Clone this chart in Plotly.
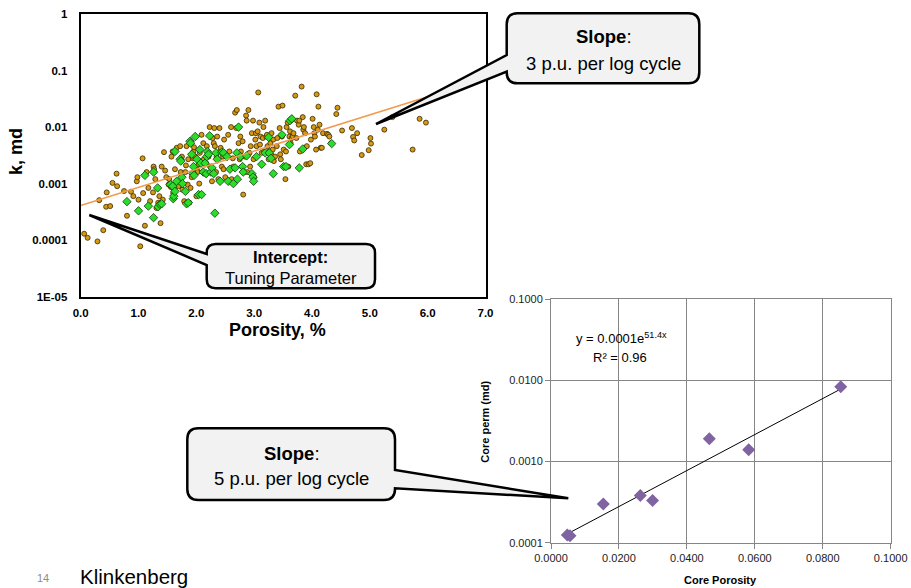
import plotly.graph_objects as go

W, H = 911, 588

# ---------------- Left chart data (porosity %, k md) ----------------
por_orange = [0.06, 0.12, 0.29, 0.32, 0.39, 0.45, 0.44, 0.51, 0.55, 0.62, 0.63, 0.75, 0.80, 0.87, 0.91, 0.97,
              0.98, 1.00, 1.03, 1.07, 1.08, 1.11, 1.14, 1.17, 1.20, 1.25, 1.26, 1.27, 1.29, 1.31, 1.34, 1.36,
              1.38, 1.40, 1.42, 1.44, 1.46, 1.48, 1.52, 1.53, 1.56, 1.57, 1.59, 1.60, 1.61, 1.63, 1.66, 1.69,
              1.72, 1.73, 1.75, 1.76, 1.79, 1.81, 1.82, 1.83, 1.85, 1.86, 1.88, 1.90, 1.92, 1.94, 1.95, 1.96,
              1.98, 2.00, 2.01, 2.02, 2.04, 2.05, 2.06, 2.09, 2.11, 2.12, 2.13, 2.15, 2.17, 2.18, 2.19, 2.21,
              2.23, 2.24, 2.25, 2.27, 2.28, 2.30, 2.31, 2.32, 2.34, 2.35, 2.36, 2.38, 2.40, 2.41, 2.42, 2.44,
              2.46, 2.47, 2.48, 2.50, 2.53, 2.55, 2.57, 2.60, 2.61, 2.63, 2.64, 2.67, 2.69, 2.70, 2.71, 2.73,
              2.75, 2.76, 2.77, 2.79, 2.80, 2.81, 2.83, 2.84, 2.86, 2.87, 2.88, 2.90, 2.92, 2.93, 2.94, 2.96,
              2.98, 2.99, 3.00, 3.02, 3.03, 3.04, 3.06, 3.07, 3.09, 3.10, 3.11, 3.13, 3.15, 3.16, 3.17, 3.19,
              3.21, 3.22, 3.23, 3.25, 3.26, 3.28, 3.29, 3.30, 3.32, 3.33, 3.34, 3.36, 3.39, 3.40, 3.42, 3.44,
              3.45, 3.46, 3.48, 3.49, 3.51, 3.52, 3.54, 3.55, 3.56, 3.58, 3.59, 3.61, 3.62, 3.63, 3.65, 3.67,
              3.68, 3.71, 3.73, 3.74, 3.77, 3.78, 3.79, 3.82, 3.84, 3.85, 3.86, 3.88, 3.90, 3.91, 3.94, 3.97,
              3.98, 4.01, 4.03, 4.04, 4.05, 4.07, 4.08, 4.10, 4.11, 4.13, 4.15, 4.17, 4.19, 4.26, 4.28, 4.30,
              4.33, 4.42, 4.44, 4.52, 4.69, 4.71, 4.73, 4.78, 4.86, 4.98, 5.01, 5.02, 5.25, 5.39, 5.74, 5.86,
              5.97]
k_orange = [0.00013, 0.00011, 0.000095, 0.00051, 0.00015, 0.00070, 0.00039, 0.00040, 0.00103, 0.0015, 0.00090,
            0.00074, 0.00027, 0.00072, 0.00060, 0.0011, 0.0013, 0.00052, 0.000078, 0.0028, 0.00068, 0.00018,
            0.0016, 0.00084, 0.00049, 0.00070, 0.0020, 0.0018, 0.0012, 0.00037, 0.00046, 0.00060, 0.00020,
            0.0020, 0.00052, 0.0036, 0.0017, 0.0013, 0.00096, 0.0012, 0.00087, 0.0030, 0.0037, 0.00068,
            0.00055, 0.0018, 0.0043, 0.00090, 0.0046, 0.0016, 0.0030, 0.00078, 0.00049, 0.0016, 0.0021,
            0.0046, 0.00096, 0.0027, 0.00046, 0.00084, 0.0013, 0.0028, 0.0037, 0.0044, 0.0030, 0.00060,
            0.0018, 0.0016, 0.0022, 0.0010, 0.0035, 0.0073, 0.0016, 0.0052, 0.0027, 0.0015, 0.0023, 0.0046,
            0.0037, 0.0030, 0.010, 0.0020, 0.0016, 0.0011, 0.0064, 0.0052, 0.0096, 0.0046, 0.0016, 0.0030,
            0.0068, 0.0012, 0.0096, 0.0037, 0.0043, 0.0020, 0.0030, 0.0018, 0.0060, 0.0013, 0.0030, 0.0073,
            0.0037, 0.010, 0.0012, 0.0028, 0.0020, 0.018, 0.0096, 0.020, 0.0034, 0.0052, 0.0027, 0.0068,
            0.0037, 0.0020, 0.0056, 0.00064, 0.0016, 0.0030, 0.016, 0.013, 0.0016, 0.020, 0.0035, 0.0020,
            0.0046, 0.0078, 0.013, 0.0027, 0.0013, 0.0060, 0.0078, 0.0046, 0.0084, 0.041, 0.012, 0.0049,
            0.0068, 0.0035, 0.0064, 0.010, 0.0037, 0.013, 0.0068, 0.0073, 0.0046, 0.0027, 0.0037, 0.0052,
            0.0033, 0.0078, 0.0040, 0.0060, 0.0025, 0.0030, 0.0046, 0.0064, 0.023, 0.0096, 0.0033, 0.0027,
            0.0068, 0.024, 0.0040, 0.0020, 0.0012, 0.0037, 0.010, 0.012, 0.0020, 0.0068, 0.0084, 0.0052,
            0.0064, 0.0068, 0.0078, 0.036, 0.0064, 0.013, 0.011, 0.013, 0.0037, 0.052, 0.015, 0.0090, 0.010,
            0.0078, 0.0022, 0.0046, 0.0022, 0.0023, 0.0060, 0.014, 0.010, 0.0078, 0.0068, 0.0040, 0.038,
            0.0090, 0.023, 0.011, 0.0043, 0.0043, 0.0078, 0.0076, 0.0073, 0.0068, 0.0052, 0.017, 0.022,
            0.0087, 0.0096, 0.0067, 0.0058, 0.0078, 0.0032, 0.0039, 0.0064, 0.0051, 0.0090, 0.015, 0.0040,
            0.014, 0.012]

por_green = [0.80, 1.00, 1.11, 1.17, 1.26, 1.26, 1.33, 1.34, 1.37, 1.40, 1.55, 1.59, 1.60, 1.61, 1.63, 1.63,
             1.66, 1.72, 1.73, 1.75, 1.76, 1.81, 1.83, 1.86, 1.89, 1.90, 1.92, 1.94, 1.95, 1.96, 1.98, 2.01,
             2.04, 2.06, 2.08, 2.09, 2.12, 2.15, 2.17, 2.18, 2.19, 2.21, 2.23, 2.25, 2.27, 2.30, 2.32, 2.34,
             2.36, 2.41, 2.44, 2.47, 2.53, 2.55, 2.58, 2.64, 2.67, 2.70, 2.71, 2.73, 2.76, 2.80, 2.81, 2.87,
             2.96, 2.98, 2.99, 3.04, 3.13, 3.19, 3.25, 3.26, 3.29, 3.33, 3.48, 3.51, 3.55, 3.61, 3.62, 3.65,
             3.78, 3.84, 4.34]
k_green = [0.00048, 0.00033, 0.0014, 0.00040, 0.0016, 0.00025, 0.00084, 0.00039, 0.00043, 0.00044, 0.00096,
           0.00090, 0.00054, 0.00060, 0.00073, 0.0037, 0.0011, 0.0027, 0.0025, 0.0013, 0.0010, 0.00073,
           0.00044, 0.00046, 0.0056, 0.0052, 0.0033, 0.0015, 0.0020, 0.0014, 0.0068, 0.0027, 0.00064,
           0.0040, 0.0023, 0.00064, 0.0016, 0.0023, 0.0015, 0.0030, 0.0037, 0.0033, 0.0070, 0.0016, 0.0019,
           0.0015, 0.00030, 0.0035, 0.0027, 0.0011, 0.0036, 0.0035, 0.0030, 0.0011, 0.0018, 0.0010, 0.0019,
           0.0035, 0.0012, 0.010, 0.0030, 0.0020, 0.0016, 0.0031, 0.0015, 0.0013, 0.0011, 0.0030, 0.0022,
           0.0035, 0.0066, 0.0035, 0.0028, 0.0015, 0.0073, 0.0020, 0.0020, 0.0049, 0.013, 0.014, 0.0019,
           0.0041, 0.0051]

trend_por = [0.0, 6.0]
trend_k = [0.00041, 0.0345]

left_xticks = [0, 1, 2, 3, 4, 5, 6, 7]
left_xticktext = ["0.0", "1.0", "2.0", "3.0", "4.0", "5.0", "6.0", "7.0"]
left_yticks = [1e-5, 1e-4, 1e-3, 1e-2, 1e-1, 1]
left_yticktext = ["1E-05", "0.0001", "0.001", "0.01", "0.1", "1"]

# ---------------- Right chart data ----------------
core_por = [0.0048, 0.0056, 0.0154, 0.0263, 0.0299, 0.0466, 0.0582, 0.0853]
core_perm = [0.000124, 0.000122, 0.00030, 0.00038, 0.00033, 0.0019, 0.00139, 0.0083]
fit_por = [0.0046, 0.0853]
fit_perm = [0.000127, 0.0078]

right_xticks = [0.0, 0.02, 0.04, 0.06, 0.08, 0.10]
right_xticktext = ["0.0000", "0.0200", "0.0400", "0.0600", "0.0800", "0.1000"]
right_yticks = [0.0001, 0.001, 0.01, 0.1]
right_yticktext = ["0.0001", "0.0010", "0.0100", "0.1000"]

SANS = "Liberation Sans, Arial, sans-serif"


def px(x):
    return x / W


def py(y):
    return 1 - y / H


def pt(x, y):
    return f"{px(x):.5f},{py(y):.5f}"


def callout(x0, y0, x1, y1, r, side, a0, a1, tip):
    d = f"M {pt(x0 + r, y0)} L {pt(x1 - r, y0)} Q {pt(x1, y0)} {pt(x1, y0 + r)} "
    if side == "right":
        d += f"L {pt(x1, a0)} L {pt(*tip)} L {pt(x1, a1)} "
    d += f"L {pt(x1, y1 - r)} Q {pt(x1, y1)} {pt(x1 - r, y1)} L {pt(x0 + r, y1)} Q {pt(x0, y1)} {pt(x0, y1 - r)} "
    if side == "left":
        d += f"L {pt(x0, a1)} L {pt(*tip)} L {pt(x0, a0)} "
    d += f"L {pt(x0, y0 + r)} Q {pt(x0, y0)} {pt(x0 + r, y0)} Z"
    return dict(type="path", xref="paper", yref="paper", path=d,
                fillcolor="#f2f2f2", line=dict(color="black", width=2.5), layer="above")


fig = go.Figure()

fig.add_trace(go.Scatter(x=por_orange, y=k_orange, mode="markers", xaxis="x", yaxis="y",
                         marker=dict(symbol="circle", size=5, color="#d39a12",
                                     line=dict(color="#3b2a05", width=0.8)),
                         showlegend=False))
fig.add_trace(go.Scatter(x=por_green, y=k_green, mode="markers", xaxis="x", yaxis="y",
                         marker=dict(symbol="diamond", size=6.5, color="#2bdc2b",
                                     line=dict(color="#0d400d", width=0.8)),
                         showlegend=False))
fig.add_trace(go.Scatter(x=trend_por, y=trend_k, mode="lines", xaxis="x", yaxis="y",
                         line=dict(color="#f39a4e", width=1.5), showlegend=False))

fig.add_trace(go.Scatter(x=fit_por, y=fit_perm, mode="lines", xaxis="x2", yaxis="y2",
                         line=dict(color="black", width=1), showlegend=False))
fig.add_trace(go.Scatter(x=core_por, y=core_perm, mode="markers", xaxis="x2", yaxis="y2",
                         marker=dict(symbol="diamond", size=10, color="#8064a2"),
                         showlegend=False))

fig.update_layout(
    width=W, height=H, margin=dict(l=0, r=0, t=0, b=0, autoexpand=False),
    paper_bgcolor="white", plot_bgcolor="white",
    xaxis=dict(domain=[px(80.7), px(485.5)], range=[0, 7], anchor="y", automargin=False,
               tickvals=left_xticks, ticktext=left_xticktext, ticks="",
               tickfont=dict(family=SANS, size=11.5, color="black", weight="bold"),
               ticklabelstandoff=4,
               showline=True, linecolor="black", linewidth=2, mirror=True,
               showgrid=False, zeroline=False),
    yaxis=dict(domain=[py(296.7), py(14)], type="log", range=[-5, 0], anchor="x", automargin=False,
               tickvals=left_yticks, ticktext=left_yticktext, ticks="",
               tickfont=dict(family=SANS, size=11.5, color="black", weight="bold"),
               ticklabelstandoff=9,
               showline=True, linecolor="black", linewidth=2, mirror=True,
               showgrid=False, zeroline=False),
    xaxis2=dict(domain=[px(551), px(890.7)], range=[0, 0.1], anchor="y2", automargin=False,
                tickvals=right_xticks, ticktext=right_xticktext, ticks="outside", ticklen=5,
                tickcolor="#868686",
                tickfont=dict(family=SANS, size=11, color="#222"),
                showline=True, linecolor="#868686", linewidth=1, mirror=True,
                showgrid=True, gridcolor="#868686", gridwidth=1, zeroline=False),
    yaxis2=dict(domain=[py(542.7), py(299)], type="log", range=[-4, -1], anchor="x2", automargin=False,
                tickvals=right_yticks, ticktext=right_yticktext, ticks="outside", ticklen=5,
                tickcolor="#868686",
                tickfont=dict(family=SANS, size=11, color="#222"),
                showline=True, linecolor="#868686", linewidth=1, mirror=True,
                showgrid=True, gridcolor="#868686", gridwidth=1, zeroline=False),
)

shapes = [
    callout(506.7, 13.3, 699.3, 83.3, 11, "left", 55, 71.7, (376, 124)),
    callout(206.7, 244, 375, 288.3, 9, "left", 254, 265, (89.3, 215)),
    callout(187.3, 428.3, 395, 500, 11, "right", 470, 488.3, (568.3, 498.3)),
]
fig.update_layout(shapes=shapes)


def ann(x, y, text, size, bold=False, color="black", angle=0, family=SANS, xanchor="center"):
    fig.add_annotation(x=px(x), y=py(y), xref="paper", yref="paper", text=text, showarrow=False,
                       xanchor=xanchor, yanchor="middle", textangle=angle,
                       font=dict(family=family, size=size, color=color,
                                 weight="bold" if bold else "normal"))


# Left chart titles
ann(277, 330, "Porosity, %", 18, bold=True)
ann(16, 152, "k, md", 18, bold=True, angle=-90)

# Right chart titles
ann(720, 580, "Core Porosity", 11, bold=True)
ann(485, 421.7, "Core perm (md)", 11, bold=True, angle=-90)
ann(621, 338.3, "y = 0.0001e<sup>51.4x</sup>", 13)
ann(620, 357.3, "R² = 0.96", 13)

# Callout texts
ann(604, 36.7, "<b>Slope</b>:", 18.5)
ann(603.3, 63.3, "3 p.u. per log cycle", 18.5)
ann(290.8, 256.7, "<b>Intercept:</b>", 16.5)
ann(290.8, 278.3, "Tuning Parameter", 16.5)
ann(291.7, 453.3, "<b>Slope</b>:", 18.5)
ann(291.7, 478.3, "5 p.u. per log cycle", 18.5)

# Slide texts
ann(78, 576, "Klinkenberg", 20.5, xanchor="left")
ann(43, 578, "14", 11, color="#8c8c8c")

fig.write_html("out.html")
